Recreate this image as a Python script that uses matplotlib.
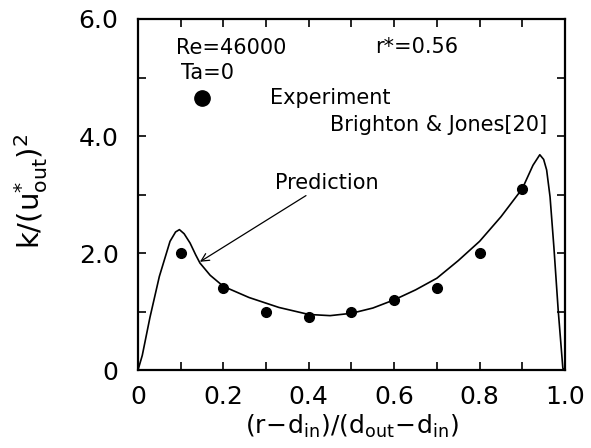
import matplotlib
matplotlib.use("Agg")
import matplotlib.pyplot as plt
from matplotlib.ticker import MultipleLocator, FixedLocator

plt.rcParams['font.family'] = ['DejaVu Sans']
plt.rcParams['mathtext.default'] = 'regular'

# Experimental data (Brighton & Jones)
exp_x = [0.1, 0.2, 0.3, 0.4, 0.5, 0.6, 0.7, 0.8, 0.9]
exp_k = [2.0, 1.4, 1.0, 0.91, 1.0, 1.2, 1.4, 2.0, 3.1]

# Predicted profile
pred_x = [0.0, 0.01, 0.028, 0.05, 0.075, 0.088, 0.097, 0.108, 0.122, 0.135,
          0.145, 0.169, 0.2, 0.26, 0.33, 0.4, 0.45, 0.5, 0.55, 0.6, 0.65,
          0.7, 0.75, 0.8, 0.85, 0.9, 0.925, 0.941, 0.95, 0.957, 0.965,
          0.974, 0.984, 0.995, 1.0]
pred_k = [0.0, 0.25, 0.9, 1.6, 2.2, 2.36, 2.40, 2.33, 2.17, 1.97,
          1.83, 1.62, 1.43, 1.24, 1.07, 0.95, 0.93, 0.97, 1.06, 1.2, 1.37,
          1.57, 1.87, 2.2, 2.62, 3.1, 3.5, 3.68, 3.6, 3.42, 2.96,
          2.1, 1.03, 0.03, 0.0]

x_ticks = [0.0, 0.2, 0.4, 0.6, 0.8, 1.0]
x_labels = ["0", "0.2", "0.4", "0.6", "0.8", "1.0"]
y_ticks = [0.0, 2.0, 4.0, 6.0]
y_labels = ["0", "2.0", "4.0", "6.0"]

fig = plt.figure(figsize=(5.91, 4.48), dpi=100)
ax = fig.add_axes([0.2335, 0.174, 0.7225, 0.7836])

ax.plot(pred_x, pred_k, color='black', lw=1.2)
ax.plot(exp_x, exp_k, 'o', color='black', ms=7, mec='black')

ax.set_xlim(0, 1.0)
ax.set_ylim(0, 6.0)
ax.xaxis.set_major_locator(FixedLocator(x_ticks))
ax.set_xticklabels(x_labels)
ax.yaxis.set_major_locator(FixedLocator(y_ticks))
ax.set_yticklabels(y_labels)
ax.xaxis.set_minor_locator(MultipleLocator(0.1))
ax.yaxis.set_minor_locator(MultipleLocator(1.0))
ax.tick_params(which='both', direction='in', top=True, right=True,
               length=6, width=1.2, labelsize=18, colors='black')
ax.tick_params(axis='x', pad=11)
ax.tick_params(axis='y', pad=14)
for s in ax.spines.values():
    s.set_linewidth(1.6)

ax.set_xlabel(r'$(r\!-\!d_{in})/(d_{out}\!-\!d_{in})$', fontsize=18)
ax.xaxis.set_label_coords(0.5, -0.123)
ax.set_ylabel(r'$k/(u^{*}_{out})^{2}$', fontsize=21)
ax.yaxis.set_label_coords(-0.205, 0.51)

ax.text(0.09, 5.5, 'Re=46000', fontsize=15, va='center')
ax.text(0.10, 5.08, 'Ta=0', fontsize=15, va='center')
ax.text(0.555, 5.52, 'r*=0.56', fontsize=15, va='center')
ax.plot([0.15], [4.65], 'o', color='black', ms=11)
ax.text(0.31, 4.65, 'Experiment', fontsize=15, va='center')
ax.text(0.958, 4.19, 'Brighton & Jones[20]', fontsize=15, va='center', ha='right')
ax.annotate('Prediction', xy=(0.145, 1.85), xytext=(0.32, 3.2),
            fontsize=15, va='center',
            arrowprops=dict(arrowstyle='->', color='black', lw=0.9,
                            shrinkA=0, shrinkB=0, mutation_scale=14))

fig.savefig('out.png', dpi=100)
